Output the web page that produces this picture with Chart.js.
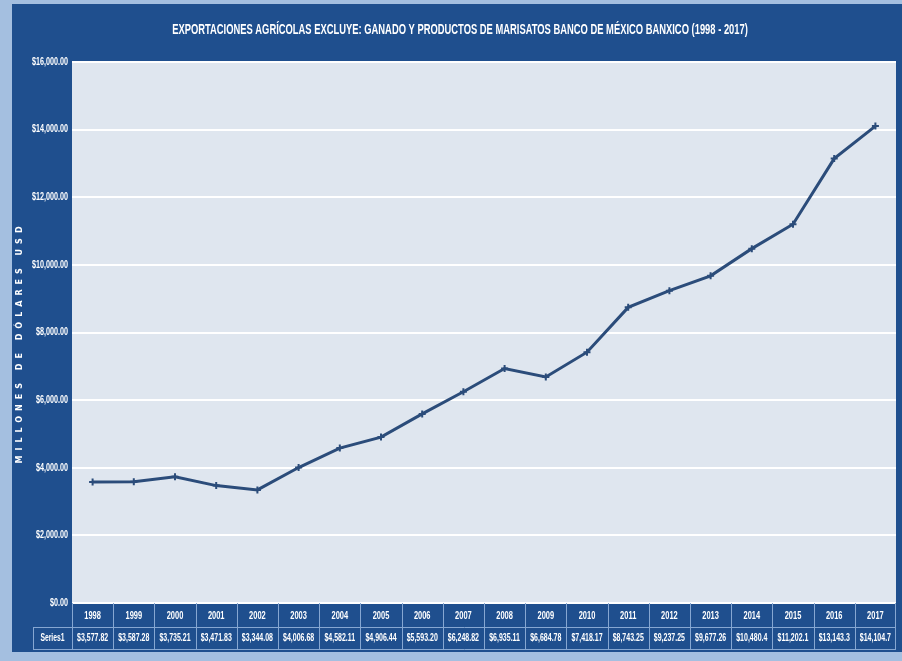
<!DOCTYPE html>
<html>
<head>
<meta charset="utf-8">
<script src="https://cdn.jsdelivr.net/npm/chart.js@4"></script>
<style>
  html, body { margin: 0; padding: 0; background: #a4bfe0; }
  #wrap { width: 902px; height: 661px; }
</style>
</head>
<body>
<div id="wrap"><canvas id="myChart" width="902" height="661"></canvas></div>
<script>
const years = ['1998', '1999', '2000', '2001', '2002', '2003', '2004', '2005', '2006', '2007',
               '2008', '2009', '2010', '2011', '2012', '2013', '2014', '2015', '2016', '2017'];
const exports = [3577.82, 3587.28, 3735.21, 3471.83, 3344.08, 4006.68, 4582.11, 4906.44, 5593.20, 6248.82,
                 6935.11, 6684.78, 7418.17, 8743.25, 9237.25, 9677.26, 10480.4, 11202.1, 13143.3, 14104.7];
const seriesName = 'Series1';
const titleText = 'EXPORTACIONES AGRÍCOLAS EXCLUYE: GANADO Y PRODUCTOS DE MARISATOS BANCO DE MÉXICO BANXICO (1998 - 2017)';
const yTitle = 'MILLONES DE DÓLARES USD';

const font = '"Liberation Sans", Arial, sans-serif';

// table cells: 2 decimals, 1 when the number gets too long (as in the sheet)
function cellMoney(v) {
    const d = v >= 10000 ? 1 : 2;
    return '$' + v.toLocaleString('en-US', { minimumFractionDigits: d, maximumFractionDigits: d });
}
function tickMoney(v) {
    return '$' + v.toLocaleString('en-US', { minimumFractionDigits: 2, maximumFractionDigits: 2 });
}

// condensed text: squeeze horizontally
function narrowText(ctx, text, x, y, size, sx, align) {
    ctx.save();
    ctx.font = 'bold ' + size + 'px ' + font;
    ctx.textAlign = align || 'center';
    ctx.textBaseline = 'middle';
    ctx.translate(x, y);
    ctx.scale(sx, 1);
    ctx.fillText(text, 0, 0);
    ctx.restore();
}

const framePlugin = {
    id: 'frame',
    beforeDraw(chart) {
        const { ctx, chartArea: a } = chart;
        ctx.save();
        ctx.fillStyle = '#a4bfe0';
        ctx.fillRect(0, 0, chart.width, chart.height);
        ctx.fillStyle = '#1f4f8e';
        ctx.fillRect(12, 4, chart.width - 12, 648);
        ctx.fillStyle = '#dfe6ef';
        ctx.fillRect(a.left, a.top, a.right - a.left, a.bottom - a.top);
        ctx.restore();
    },
    afterDraw(chart) {
        const { ctx, chartArea: a } = chart;
        const x = chart.scales.x, y = chart.scales.y;
        ctx.save();
        ctx.fillStyle = '#ffffff';

        // title
        narrowText(ctx, titleText, 460, 30, 14, 0.67);

        // y tick labels
        y.ticks.forEach(t => {
            narrowText(ctx, tickMoney(t.value), 68, y.getPixelForValue(t.value), 10, 0.72, 'right');
        });

        // axis title
        ctx.save();
        ctx.translate(20, (a.top + a.bottom) / 2 + 10);
        ctx.rotate(-Math.PI / 2);
        ctx.letterSpacing = '5px';
        ctx.font = 'bold 8px "DejaVu Sans", sans-serif';
        ctx.textAlign = 'center';
        ctx.textBaseline = 'middle';
        ctx.fillText(yTitle, 0, 0);
        ctx.restore();

        // data table
        const top = a.bottom, mid = a.bottom + 24, bot = 650, labelLeft = 33;
        const step = (a.right - a.left) / years.length;
        ctx.strokeStyle = '#86a7d2';
        ctx.lineWidth = 1;
        ctx.beginPath();
        ctx.moveTo(labelLeft, mid + 0.5); ctx.lineTo(a.right, mid + 0.5);
        ctx.moveTo(labelLeft, bot - 0.5); ctx.lineTo(a.right, bot - 0.5);
        ctx.moveTo(labelLeft + 0.5, mid); ctx.lineTo(labelLeft + 0.5, bot);
        years.forEach((yr, i) => {
            const l = Math.round(x.getPixelForValue(i) - step / 2) + 0.5;
            ctx.moveTo(l, top); ctx.lineTo(l, bot);
        });
        ctx.moveTo(a.right - 0.5, top); ctx.lineTo(a.right - 0.5, bot);
        ctx.stroke();

        const rowY = (mid + bot) / 2;
        narrowText(ctx, seriesName, (labelLeft + a.left) / 2, rowY, 10, 0.68);
        years.forEach((yr, i) => {
            narrowText(ctx, yr, x.getPixelForValue(i), (top + mid) / 2 + 1, 11, 0.68);
            narrowText(ctx, cellMoney(exports[i]), x.getPixelForValue(i), rowY, 10, 0.7);
        });
        ctx.restore();
    }
};

const ctx = document.getElementById('myChart').getContext('2d');
const chart = new Chart(ctx, {
    type: 'line',
    data: {
        labels: years,
        datasets: [{
            label: seriesName,
            data: exports,
            borderColor: '#2b4c7a',
            backgroundColor: '#2b4c7a',
            borderWidth: 3,
            pointStyle: 'cross',
            pointRadius: 3.5,
            pointBorderWidth: 2,
            tension: 0
        }]
    },
    options: {
        responsive: false,
        animation: false,
        layout: { padding: { left: 0, right: 6, top: 62, bottom: 11 } },
        plugins: {
            legend: { display: false },
            tooltip: { enabled: false },
            title: { display: false }
        },
        scales: {
            x: {
                offset: true,
                grid: { display: false, drawTicks: false },
                border: { display: false },
                ticks: { display: false },
                afterFit(scale) { scale.height = 47; }
            },
            y: {
                min: 0,
                max: 16000,
                ticks: { stepSize: 2000, display: false },
                grid: { color: '#ffffff', lineWidth: 2, drawTicks: false },
                border: { display: false },
                afterFit(scale) { scale.width = 72; }
            }
        }
    },
    plugins: [framePlugin]
});
</script>
</body>
</html>
